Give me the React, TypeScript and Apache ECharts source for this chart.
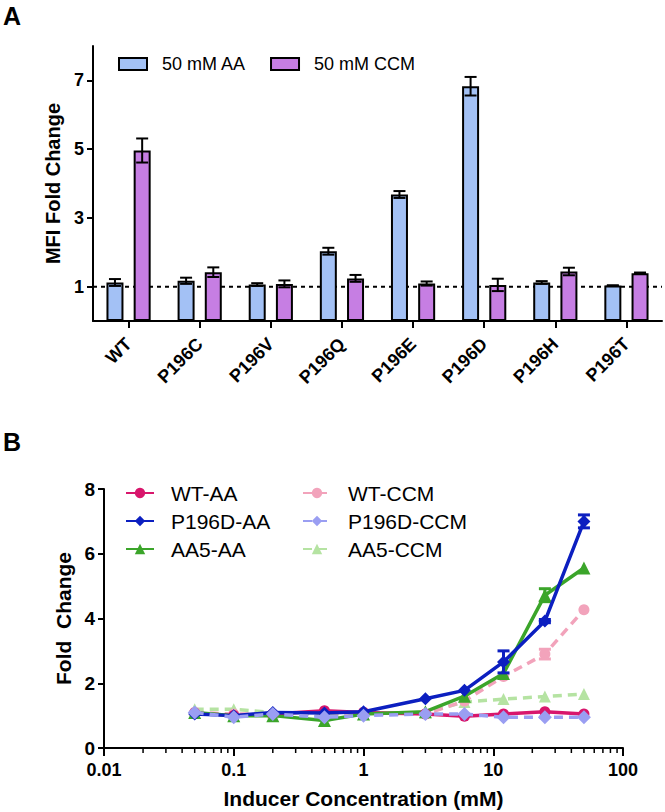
import React, { useEffect, useRef } from "react";
import * as echarts from "echarts";

// ---------- Panel A data ----------
const barCategories = ["WT", "P196C", "P196V", "P196Q", "P196E", "P196D", "P196H", "P196T"];
const aaMeans = [1.12, 1.17, 1.06, 2.03, 3.68, 6.83, 1.12, 1.03];
const aaErrors = [0.1, 0.09, 0.04, 0.1, 0.1, 0.27, 0.04, 0.01];
const ccmMeans = [4.96, 1.42, 1.08, 1.24, 1.09, 1.05, 1.44, 1.39];
const ccmErrors = [0.35, 0.14, 0.1, 0.1, 0.06, 0.18, 0.11, 0.02];
const barYTicks = [1, 3, 5, 7];
const baselineValue = 1;

// ---------- Panel B data ----------
const concentrations = [0.05, 0.1, 0.2, 0.5, 1, 3, 6, 12, 25, 50];
const wtAA = [1.08, 1.0, 1.05, 1.15, 1.1, 1.05, 0.98, 1.05, 1.12, 1.05];
const p196dAA = [1.05, 1.0, 1.1, 1.08, 1.12, 1.52, 1.78, 2.66, 3.92, 7.0];
const aa5AA = [1.1, 1.0, 1.0, 0.85, 1.05, 1.12, 1.6, 2.3, 4.72, 5.56];
const wtCCM = [1.1, 1.05, 1.05, 1.1, 1.05, 1.05, 1.45, 2.21, 2.9, 4.27];
const p196dCCM = [1.1, 0.95, 1.05, 0.95, 1.0, 1.05, 1.05, 0.95, 0.95, 0.95];
const aa5CCM = [1.2, 1.2, 1.1, 1.0, 1.05, 1.1, 1.42, 1.51, 1.59, 1.67];
const p196dAAErr = [0, 0, 0, 0, 0, 0, 0, 0.34, 0.05, 0.2];
const aa5AAErr = [0, 0, 0, 0, 0, 0, 0, 0, 0.2, 0];
const wtCCMErr = [0, 0, 0, 0, 0, 0, 0, 0, 0.15, 0];
const logDecades = [0.01, 0.1, 1, 10];
const minorMultipliers = [2, 3, 4, 5, 6, 7, 8, 9];
const lineYTicks = [0, 2, 4, 6, 8];

const FONT = "Liberation Sans, Arial, Helvetica, sans-serif";
const BLUE_BAR = "#a3c1f5";
const PURPLE_BAR = "#c67ee3";
const BAR_W = 17;
const BAR_GAP = 0.6;
const BAR_OFFSET = (BAR_W + BAR_W * BAR_GAP) / 2;

function barErrSeries(means: number[], errs: number[], offset: number) {
  return {
    type: "custom",
    xAxisIndex: 0,
    yAxisIndex: 0,
    silent: true,
    z: 5,
    data: means.map((m, i) => [i, m, errs[i]]),
    renderItem: (_p: any, api: any) => {
      const i = api.value(0);
      const v = api.value(1);
      const e = api.value(2);
      const hi = api.coord([i, v + e]);
      const lo = api.coord([i, v - e]);
      const x = hi[0] + offset;
      const c = 6;
      const st = { stroke: "#000", lineWidth: 2 };
      return {
        type: "group",
        children: [
          { type: "line", shape: { x1: x, y1: hi[1], x2: x, y2: lo[1] }, style: st },
          { type: "line", shape: { x1: x - c, y1: hi[1], x2: x + c, y2: hi[1] }, style: st },
          { type: "line", shape: { x1: x - c, y1: lo[1], x2: x + c, y2: lo[1] }, style: st },
        ],
      };
    },
  };
}

function lineErrSeries(ys: number[], errs: number[], color: string, z: number) {
  const data = concentrations
    .map((x, i) => [x, ys[i], errs[i]])
    .filter((d) => d[2] > 0);
  return {
    type: "custom",
    xAxisIndex: 1,
    yAxisIndex: 1,
    silent: true,
    z,
    data,
    renderItem: (_p: any, api: any) => {
      const x = api.value(0);
      const v = api.value(1);
      const e = api.value(2);
      const hi = api.coord([x, v + e]);
      const lo = api.coord([x, v - e]);
      const c = 6;
      const st = { stroke: color, lineWidth: 3 };
      return {
        type: "group",
        children: [
          { type: "line", shape: { x1: hi[0], y1: hi[1], x2: lo[0], y2: lo[1] }, style: st },
          { type: "line", shape: { x1: hi[0] - c, y1: hi[1], x2: hi[0] + c, y2: hi[1] }, style: st },
          { type: "line", shape: { x1: lo[0] - c, y1: lo[1], x2: lo[0] + c, y2: lo[1] }, style: st },
        ],
      };
    },
  };
}

function lineSeries(
  name: string,
  ys: number[],
  color: string,
  symbol: string,
  size: number,
  dashed: boolean,
  z: number
) {
  return {
    name,
    type: "line",
    xAxisIndex: 1,
    yAxisIndex: 1,
    data: concentrations.map((x, i) => [x, ys[i]]),
    symbol,
    symbolSize: size,
    z,
    lineStyle: { color, width: 3.5, type: dashed ? [9, 6] : "solid" },
    itemStyle: { color },
  };
}

export default function App() {
  const ref = useRef<HTMLDivElement>(null);
  useEffect(() => {
    if (!ref.current) return;
    const chart = echarts.init(ref.current, undefined, { renderer: "svg" });
    const minorTicks: number[][] = [];
    logDecades.forEach((d) => minorMultipliers.forEach((m) => minorTicks.push([d * m, 0])));

    const axisLine = { show: true, lineStyle: { color: "#000", width: 2 } };
    const labelStyle = { color: "#000", fontFamily: FONT, fontWeight: "bold" as const };

    const option: any = {
      animation: false,
      textStyle: { fontFamily: FONT },
      graphic: [
        { type: "text", left: 3, top: 3, style: { text: "A", font: `bold 25px ${FONT}`, fill: "#000" } },
        { type: "text", left: 3, top: 429, style: { text: "B", font: `bold 25px ${FONT}`, fill: "#000" } },
      ],
      legend: [
        {
          data: ["50 mM AA", "50 mM CCM"],
          left: 113,
          top: 50,
          icon: "rect",
          itemWidth: 28,
          itemHeight: 12,
          itemGap: 24,
          itemStyle: { borderColor: "#000", borderWidth: 2 },
          textStyle: { fontSize: 18, color: "#000", fontFamily: FONT, padding: [0, 0, 0, 10] },
        },
        {
          data: ["WT-AA", "P196D-AA", "AA5-AA"],
          orient: "vertical",
          left: 120,
          top: 477,
          itemWidth: 28,
          itemHeight: 13,
          itemGap: 6,
          textStyle: { fontSize: 21, lineHeight: 22, color: "#000", fontFamily: FONT, padding: [0, 0, 0, 12] },
        },
        {
          data: ["WT-CCM", "P196D-CCM", "AA5-CCM"],
          orient: "vertical",
          left: 297,
          top: 477,
          itemWidth: 28,
          itemHeight: 13,
          itemGap: 6,
          textStyle: { fontSize: 21, lineHeight: 22, color: "#000", fontFamily: FONT, padding: [0, 0, 0, 12] },
        },
      ],
      grid: [
        { left: 93, top: 46, width: 569, height: 275, containLabel: false },
        { left: 104, top: 489, width: 519, height: 259, containLabel: false },
      ],
      xAxis: [
        {
          gridIndex: 0,
          type: "category",
          data: barCategories,
          axisLine,
          axisTick: { show: true, alignWithLabel: true, length: 7, lineStyle: { color: "#000", width: 2 } },
          axisLabel: { ...labelStyle, fontSize: 18, rotate: 45, margin: 20, interval: 0 },
          splitLine: { show: false },
        },
        {
          gridIndex: 1,
          type: "log",
          logBase: 10,
          min: 0.01,
          max: 100,
          axisLine,
          axisTick: { show: true, length: 8, lineStyle: { color: "#000", width: 2 } },
          axisLabel: {
            ...labelStyle,
            fontSize: 18,
            margin: 13,
            formatter: (v: number) => String(v),
          },
          splitLine: { show: false },
          minorTick: { show: false },
          name: "Inducer Concentration (mM)",
          nameLocation: "middle",
          nameGap: 40,
          nameTextStyle: { ...labelStyle, fontSize: 21 },
        },
      ],
      yAxis: [
        {
          gridIndex: 0,
          type: "value",
          min: 0,
          max: 8,
          axisLine,
          axisTick: { show: true, length: 6, customValues: barYTicks, lineStyle: { color: "#000", width: 2 } },
          axisLabel: { ...labelStyle, fontSize: 18, margin: 9, customValues: barYTicks },
          splitLine: { show: false },
          name: "MFI Fold Change",
          nameLocation: "middle",
          nameGap: 30,
          nameTextStyle: { ...labelStyle, fontSize: 20 },
        },
        {
          gridIndex: 1,
          type: "value",
          min: 0,
          max: 8,
          interval: 2,
          axisLine,
          axisTick: { show: true, length: 6, customValues: lineYTicks, lineStyle: { color: "#000", width: 2 } },
          axisLabel: { ...labelStyle, fontSize: 19, margin: 9, customValues: lineYTicks },
          splitLine: { show: false },
          name: "Fold  Change",
          nameLocation: "middle",
          nameGap: 28,
          nameTextStyle: { ...labelStyle, fontSize: 21 },
        },
      ],
      series: [
        {
          type: "custom",
          xAxisIndex: 0,
          yAxisIndex: 0,
          silent: true,
          z: 1,
          data: [[0, baselineValue]],
          renderItem: (params: any, api: any) => {
            const cs = params.coordSys;
            const y = api.coord([0, api.value(1)])[1];
            return {
              type: "line",
              shape: { x1: cs.x, y1: y, x2: cs.x + cs.width, y2: y },
              style: { stroke: "#000", lineWidth: 2, lineDash: [4, 4] },
            };
          },
        },
        {
          name: "50 mM AA",
          type: "bar",
          xAxisIndex: 0,
          yAxisIndex: 0,
          data: aaMeans,
          barWidth: BAR_W,
          barGap: `${BAR_GAP * 100}%`,
          z: 2,
          itemStyle: { color: BLUE_BAR, borderColor: "#000", borderWidth: 2 },
        },
        {
          name: "50 mM CCM",
          type: "bar",
          xAxisIndex: 0,
          yAxisIndex: 0,
          data: ccmMeans,
          barWidth: BAR_W,
          barGap: `${BAR_GAP * 100}%`,
          z: 2,
          itemStyle: { color: PURPLE_BAR, borderColor: "#000", borderWidth: 2 },
        },
        barErrSeries(aaMeans, aaErrors, -BAR_OFFSET),
        barErrSeries(ccmMeans, ccmErrors, BAR_OFFSET),
        {
          type: "custom",
          xAxisIndex: 1,
          yAxisIndex: 1,
          silent: true,
          clip: false,
          z: 1,
          data: minorTicks,
          renderItem: (_p: any, api: any) => {
            const pt = api.coord([api.value(0), 0]);
            return {
              type: "line",
              shape: { x1: pt[0], y1: pt[1], x2: pt[0], y2: pt[1] + 5 },
              style: { stroke: "#000", lineWidth: 1.5 },
            };
          },
        },
        lineSeries("AA5-CCM", aa5CCM, "#b5e3a2", "triangle", 12, true, 3),
        lineSeries("WT-CCM", wtCCM, "#f2a3bb", "circle", 11, true, 3),
        lineErrSeries(wtCCM, wtCCMErr, "#f2a3bb", 3),
        lineSeries("WT-AA", wtAA, "#d8166c", "circle", 11, false, 4),
        lineSeries("AA5-AA", aa5AA, "#3ba52a", "triangle", 13, false, 4),
        lineErrSeries(aa5AA, aa5AAErr, "#3ba52a", 4),
        lineSeries("P196D-AA", p196dAA, "#0c1fc0", "diamond", 13, false, 5),
        lineErrSeries(p196dAA, p196dAAErr, "#0c1fc0", 5),
        lineSeries("P196D-CCM", p196dCCM, "#9a9ef2", "diamond", 14, true, 6),
      ],
    };
    chart.setOption(option);
    return () => chart.dispose();
  }, []);
  return (
    <div
      ref={ref}
      style={{ position: "absolute", left: 0, top: 0, width: 665, height: 812, background: "#fff" }}
    />
  );
}
